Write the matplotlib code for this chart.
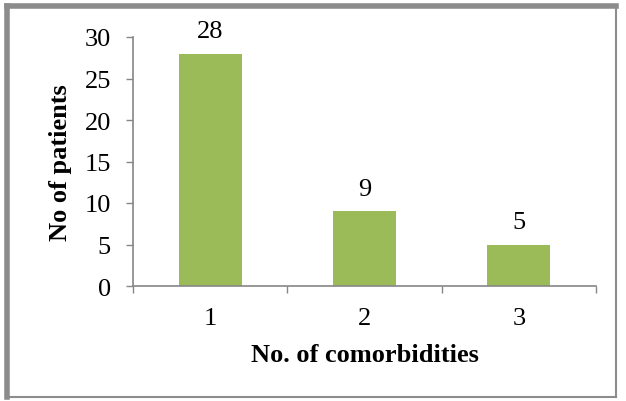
import matplotlib.pyplot as plt
from matplotlib.lines import Line2D

categories = ["1", "2", "3"]
patients = [28, 9, 5]
yticks = [0, 5, 10, 15, 20, 25, 30]

plt.rcParams['font.family'] = ['Liberation Serif', 'DejaVu Serif']

fig = plt.figure(figsize=(6.26, 4.02), dpi=100)
ax = fig.add_axes([133 / 626, 1 - 287 / 402, (596 - 133) / 626, (287 - 38) / 402])

grey = "#868686"
fs = 19
x = range(len(categories))
ax.bar(x, patients, width=0.41, color="#9BBB59")
for xi, v in zip(x, patients):
    ax.annotate(str(v), (xi, v), xytext=(0, 8), textcoords="offset points",
                ha="center", va="bottom", fontsize=fs)

ax.set_xlim(-0.5, len(categories) - 0.5)
ax.set_ylim(0, 30)
ax.set_yticks(yticks)
ax.set_xticks([i - 0.5 for i in range(len(categories) + 1)], minor=False)
ax.set_xticklabels([])
ax.set_xticks(list(x), minor=True)
ax.set_xticklabels(categories, minor=True)
ax.tick_params(axis="x", which="minor", length=0, labelsize=fs, pad=15)
ax.tick_params(axis="x", which="major", length=5, color=grey, width=1)
ax.tick_params(axis="y", length=5, color=grey, width=1, labelsize=fs, pad=11)

for s in ["top", "right"]:
    ax.spines[s].set_visible(False)
for s in ["left", "bottom"]:
    ax.spines[s].set_color(grey)
    ax.spines[s].set_linewidth(1.2)

ax.set_xlabel("No. of comorbidities", fontsize=fs, fontweight="bold", labelpad=10)
ax.set_ylabel("No of patients", fontsize=fs, fontweight="bold", labelpad=9)

# outer frame
fc = "#8c8c8c"
fig.add_artist(Line2D([7 / 626, 616 / 626], [1 - 7 / 402, 1 - 7 / 402], color=fc, lw=4, transform=fig.transFigure))
fig.add_artist(Line2D([7 / 626, 7 / 626], [1 - 7 / 402, 1 - 398 / 402], color=fc, lw=4, transform=fig.transFigure))
fig.add_artist(Line2D([616 / 626, 616 / 626], [1 - 7 / 402, 1 - 398 / 402], color=fc, lw=1.5, transform=fig.transFigure))
fig.add_artist(Line2D([7 / 626, 616 / 626], [1 - 398 / 402, 1 - 398 / 402], color=fc, lw=1.5, transform=fig.transFigure))

fig.savefig("out.png", dpi=100)
